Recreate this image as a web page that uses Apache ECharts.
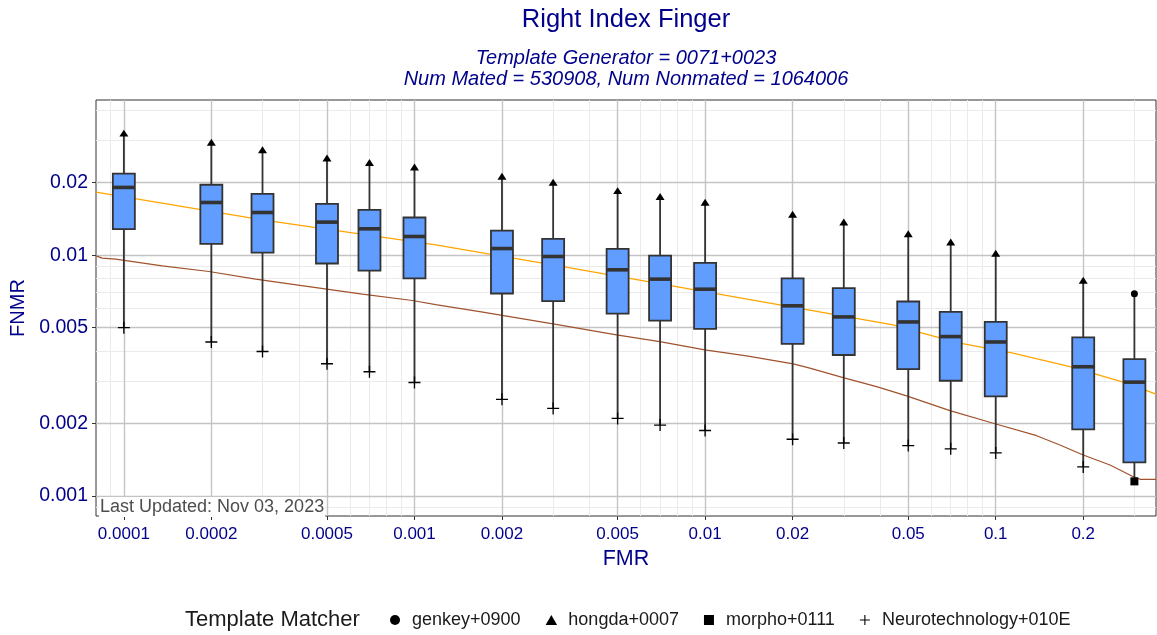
<!DOCTYPE html>
<html>
<head>
<meta charset="utf-8">
<script src="https://cdn.jsdelivr.net/npm/echarts@6/dist/echarts.min.js"></script>
<style>
html,body{margin:0;padding:0;background:#ffffff;}
#chart{width:1157px;height:635px;}
</style>
</head>
<body>
<div id="chart"></div>
<script>
// ---------------- data ----------------
const fmrLevels = [0.0001, 0.0002, 0.0003, 0.0005, 0.0007, 0.001, 0.002, 0.003, 0.005, 0.007, 0.01, 0.02, 0.03, 0.05, 0.07, 0.1, 0.2, 0.3];
const boxMax    = [0.0321, 0.0294, 0.0274, 0.0253, 0.02425, 0.0232, 0.02125, 0.02006, 0.01853, 0.0175, 0.01657, 0.01477, 0.01372, 0.01228, 0.01134, 0.01019, 0.00786, 0.00691];
const boxQ3     = [0.02178, 0.0196, 0.01797, 0.01633, 0.01542, 0.01433, 0.01265, 0.01169, 0.01062, 0.00996, 0.00929, 0.0080, 0.00729, 0.00642, 0.00581, 0.00528, 0.00456, 0.0037];
const boxMedian = [0.0191, 0.01654, 0.01503, 0.01371, 0.01286, 0.01195, 0.01065, 0.00987, 0.00869, 0.00795, 0.00722, 0.00616, 0.00554, 0.00528, 0.00459, 0.00436, 0.00344, 0.00297];
const boxQ1     = [0.01282, 0.01114, 0.01025, 0.00923, 0.00863, 0.0080, 0.00693, 0.00644, 0.00572, 0.00535, 0.00494, 0.00428, 0.00385, 0.00336, 0.00301, 0.00259, 0.00189, 0.00138];
const boxMin    = [0.0050, 0.00436, 0.00398, 0.00354, 0.00328, 0.00296, 0.00252, 0.00231, 0.0021, 0.00197, 0.00187, 0.00172, 0.00166, 0.00162, 0.00157, 0.00151, 0.00132, 0.00115];

// matcher that gives the worst (top whisker) and best (bottom whisker) FNMR at each FMR
const worstMatcher = ['hongda+0007','hongda+0007','hongda+0007','hongda+0007','hongda+0007','hongda+0007','hongda+0007','hongda+0007','hongda+0007','hongda+0007','hongda+0007','hongda+0007','hongda+0007','hongda+0007','hongda+0007','hongda+0007','hongda+0007','genkey+0900'];
const bestMatcher  = ['Neurotechnology+010E','Neurotechnology+010E','Neurotechnology+010E','Neurotechnology+010E','Neurotechnology+010E','Neurotechnology+010E','Neurotechnology+010E','Neurotechnology+010E','Neurotechnology+010E','Neurotechnology+010E','Neurotechnology+010E','Neurotechnology+010E','Neurotechnology+010E','Neurotechnology+010E','Neurotechnology+010E','Neurotechnology+010E','Neurotechnology+010E','morpho+0111'];

const matchers = ['genkey+0900', 'hongda+0007', 'morpho+0111', 'Neurotechnology+010E'];

// orange curve
const orangeFMR  = [0.0000802, 0.0002995, 0.001183, 0.003244, 0.0167, 0.04436, 0.05341, 0.07527, 0.1146, 0.18, 0.2822, 0.356];
const orangeFNMR = [0.01827, 0.01402, 0.01104, 0.008966, 0.006318, 0.005133, 0.004815, 0.004309, 0.003916, 0.003444, 0.002939, 0.002646];

// brown curve
const brownFMR  = [0.0000802, 0.00008425, 0.00009364, 0.0001356, 0.0001962, 0.000284, 0.0004333, 0.0006617, 0.0009835, 0.001183, 0.001677, 0.002998, 0.004955, 0.006985, 0.009977, 0.01389, 0.0201, 0.02293, 0.02985, 0.0389, 0.04936, 0.06957, 0.09804, 0.1383, 0.1663, 0.2, 0.2472, 0.2974, 0.3136, 0.356];
const brownFNMR = [0.00993, 0.00972, 0.00962, 0.00903, 0.00855, 0.00795, 0.0074, 0.00689, 0.00648, 0.00623, 0.00583, 0.00518, 0.004665, 0.004375, 0.004042, 0.003816, 0.003535, 0.003393, 0.0031, 0.002844, 0.002603, 0.002261, 0.002005, 0.00178, 0.001629, 0.00148, 0.001345, 0.001203, 0.001173, 0.001173];

// ticks
const xMajorTicks = [0.0001, 0.0002, 0.0005, 0.001, 0.002, 0.005, 0.01, 0.02, 0.05, 0.1, 0.2];
const xMinorTicks = [0.00009, 0.0003, 0.0004, 0.0006, 0.0007, 0.0008, 0.0009, 0.003, 0.004, 0.006, 0.007, 0.008, 0.009, 0.03, 0.04, 0.06, 0.07, 0.08, 0.09, 0.3];
const yMajorTicks = [0.001, 0.002, 0.005, 0.01, 0.02];
const yMinorTicks = [0.0009, 0.003, 0.004, 0.006, 0.007, 0.008, 0.009, 0.03, 0.04];

const xRange = [0.0000802, 0.356];
const yRange = [0.000826, 0.04406];

// ---------------- styling ----------------
const FONT = "'Liberation Sans', Arial, Helvetica, sans-serif";
const NAVY = '#00008B';
const matcherSymbol = {
  'genkey+0900': {symbol: 'circle', size: 7},
  'hongda+0007': {symbol: 'path://M5,0 L10,8.7 L0,8.7 Z', size: [9, 8]},
  'morpho+0111': {symbol: 'path://M0,0 H10 V10 H0 Z', size: 8},
  'Neurotechnology+010E': {symbol: 'path://M4.45,0 H5.55 V4.45 H10 V5.55 H5.55 V10 H4.45 V5.55 H0 V4.45 H4.45 Z', size: 12}
};

const fmtTick = v => String(+Number(v).toPrecision(6));

const boxData = fmrLevels.map((f, i) => [f, boxMin[i], boxQ1[i], boxMedian[i], boxQ3[i], boxMax[i]]);

function renderBox(params, api) {
  const x = api.value(0);
  const pMin = api.coord([x, api.value(1)]);
  const pQ1 = api.coord([x, api.value(2)]);
  const pMed = api.coord([x, api.value(3)]);
  const pQ3 = api.coord([x, api.value(4)]);
  const pMax = api.coord([x, api.value(5)]);
  const cx = pMin[0];
  const hw = 11;
  const ls = {stroke: '#333333', lineWidth: 1.8};
  return {
    type: 'group',
    children: [
      {type: 'line', shape: {x1: cx, y1: pMax[1], x2: cx, y2: pQ3[1]}, style: ls},
      {type: 'line', shape: {x1: cx, y1: pQ1[1], x2: cx, y2: pMin[1]}, style: ls},
      {type: 'rect', shape: {x: cx - hw, y: pQ3[1], width: 2 * hw, height: pQ1[1] - pQ3[1]},
        style: {fill: '#619CFF', stroke: '#333333', lineWidth: 1.8}},
      {type: 'line', shape: {x1: cx - hw, y1: pMed[1], x2: cx + hw, y2: pMed[1]},
        style: {stroke: '#333333', lineWidth: 3.6}}
    ]
  };
}

const scatterSeries = matchers.map(m => {
  const pts = [];
  fmrLevels.forEach((f, i) => {
    if (worstMatcher[i] === m) pts.push([f, boxMax[i]]);
    if (bestMatcher[i] === m) pts.push([f, boxMin[i]]);
  });
  return {
    name: m,
    type: 'scatter',
    xAxisIndex: 0, yAxisIndex: 0,
    symbol: matcherSymbol[m].symbol,
    symbolSize: matcherSymbol[m].size,
    symbolKeepAspect: true,
    itemStyle: {color: '#000000', opacity: 1},
    z: 5,
    data: pts
  };
});

const chart = echarts.init(document.getElementById('chart'), null, {renderer: 'canvas'});

const option = {
  animation: false,
  backgroundColor: '#ffffff',
  textStyle: {fontFamily: FONT},
  title: [
    {
      text: 'Right Index Finger',
      left: 626, top: 5, textAlign: 'center', padding: 0,
      textStyle: {fontFamily: FONT, fontSize: 25.5, fontWeight: 'normal', color: NAVY, lineHeight: 30}
    },
    {
      text: 'Template Generator = 0071+0023\nNum Mated = 530908, Num Nonmated = 1064006',
      left: 626, top: 48, textAlign: 'center', padding: 0,
      textStyle: {fontFamily: FONT, fontSize: 20, fontStyle: 'italic', fontWeight: 'normal', color: NAVY, lineHeight: 21}
    },
    {
      text: 'Template Matcher',
      left: 185, top: 609, padding: 0,
      textStyle: {fontFamily: FONT, fontSize: 22, fontWeight: 'normal', color: '#1a1a1a', lineHeight: 22}
    }
  ],
  legend: {
    data: matchers.map(m => ({name: m, icon: matcherSymbol[m].symbol})),
    left: 390, top: 610, padding: 0,
    orient: 'horizontal',
    itemWidth: 24, itemHeight: 10, itemGap: 25,
    symbolKeepAspect: true,
    selectedMode: false,
    textStyle: {fontFamily: FONT, fontSize: 18, color: '#1a1a1a', lineHeight: 20}
  },
  grid: {
    left: 96, right: 1, top: 100, bottom: 119,
    show: true, borderColor: '#333333', borderWidth: 1, backgroundColor: 'transparent',
    outerBoundsMode: 'none', containLabel: false
  },
  xAxis: [
    {
      type: 'log', logBase: 10, min: xRange[0], max: xRange[1], z: 1,
      name: 'FMR', nameLocation: 'middle', nameGap: 30,
      nameTextStyle: {fontFamily: FONT, fontSize: 21.5, color: NAVY},
      axisLine: {show: false},
      axisTick: {show: true, length: 4, lineStyle: {color: '#333333', width: 1}, customValues: xMajorTicks},
      axisLabel: {show: true, customValues: xMajorTicks, formatter: fmtTick, margin: 10,
        fontFamily: FONT, fontSize: 17, color: NAVY},
      splitLine: {show: true, lineStyle: {color: '#C4C4C4', width: 1.4}},
      minorTick: {show: false}, minorSplitLine: {show: false}
    },
    {
      type: 'log', logBase: 10, min: xRange[0], max: xRange[1], z: 0, position: 'bottom',
      axisLine: {show: false},
      axisTick: {show: false, customValues: xMinorTicks},
      axisLabel: {show: false, customValues: xMinorTicks},
      splitLine: {show: true, lineStyle: {color: '#EBEBEB', width: 1}}
    }
  ],
  yAxis: [
    {
      type: 'log', logBase: 10, min: yRange[0], max: yRange[1], z: 1,
      name: 'FNMR', nameLocation: 'middle', nameGap: 63, nameRotate: 90,
      nameTextStyle: {fontFamily: FONT, fontSize: 20, color: NAVY},
      axisLine: {show: false},
      axisTick: {show: true, length: 4, lineStyle: {color: '#333333', width: 1}, customValues: yMajorTicks},
      axisLabel: {show: true, customValues: yMajorTicks, formatter: fmtTick, margin: 8,
        fontFamily: FONT, fontSize: 19.5, color: NAVY},
      splitLine: {show: true, lineStyle: {color: '#C4C4C4', width: 1.4}},
      minorTick: {show: false}, minorSplitLine: {show: false}
    },
    {
      type: 'log', logBase: 10, min: yRange[0], max: yRange[1], z: 0, position: 'left',
      axisLine: {show: false},
      axisTick: {show: false, customValues: yMinorTicks},
      axisLabel: {show: false, customValues: yMinorTicks},
      splitLine: {show: true, lineStyle: {color: '#EBEBEB', width: 1}}
    }
  ],
  graphic: [
    {
      type: 'text', left: 99, top: 497, z: 100,
      style: {text: 'Last Updated: Nov 03, 2023', font: '18px ' + FONT, fill: '#4D4D4D',
        backgroundColor: '#ffffff', padding: [1, 1]}
    }
  ],
  series: [
    {
      name: 'orange curve', type: 'line', xAxisIndex: 0, yAxisIndex: 0,
      showSymbol: false, symbol: 'none', z: 2, silent: true,
      lineStyle: {color: '#FFA500', width: 1.3},
      data: orangeFMR.map((f, i) => [f, orangeFNMR[i]])
    },
    {
      name: 'brown curve', type: 'line', xAxisIndex: 0, yAxisIndex: 0,
      showSymbol: false, symbol: 'none', z: 2, silent: true,
      lineStyle: {color: '#A0522D', width: 1.2},
      data: brownFMR.map((f, i) => [f, brownFNMR[i]])
    },
    {
      name: 'boxes', type: 'custom', xAxisIndex: 0, yAxisIndex: 0, z: 3,
      renderItem: renderBox,
      encode: {x: 0, y: [1, 2, 3, 4, 5]},
      data: boxData
    }
  ].concat(scatterSeries)
};

chart.setOption(option);
</script>
</body>
</html>
